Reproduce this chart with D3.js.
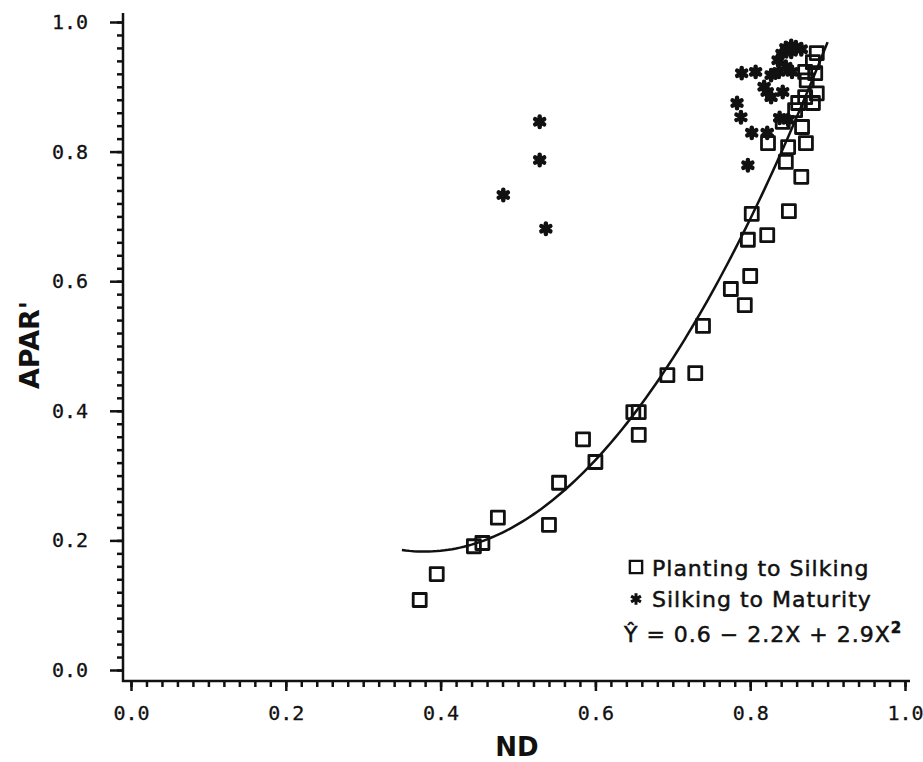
<!DOCTYPE html>
<html>
<head>
<meta charset="utf-8">
<script src="https://cdn.jsdelivr.net/npm/d3@7"></script>
<style>
  body { margin: 0; background: #fff; }
  svg { display: block; }
  .tick text { font-family: "DejaVu Sans Mono", monospace; font-size: 20px; fill: #111; stroke: #111; stroke-width: 0.3; }
  .lbl { font-family: "DejaVu Sans", sans-serif; font-weight: bold; fill: #111; }
  .leg { font-family: "DejaVu Sans", sans-serif; font-size: 22px; letter-spacing: 1px; fill: #111; stroke: #111; stroke-width: 0.5; }
</style>
</head>
<body>
<svg id="chart" width="923" height="762"></svg>
<script>
// Planting to Silking (ND, APAR')
const plantX = [0.373, 0.395, 0.443, 0.454, 0.474, 0.540, 0.553, 0.584, 0.600, 0.649, 0.656, 0.656,
  0.693, 0.729, 0.739, 0.775, 0.793, 0.800, 0.797, 0.822, 0.802, 0.850, 0.866, 0.846, 0.823, 0.849,
  0.872, 0.842, 0.867, 0.858, 0.862, 0.881, 0.871, 0.886, 0.873, 0.884, 0.871, 0.881, 0.886];
const plantY = [0.108, 0.148, 0.191, 0.196, 0.235, 0.224, 0.289, 0.356, 0.321, 0.398, 0.398, 0.363,
  0.455, 0.458, 0.531, 0.588, 0.563, 0.608, 0.664, 0.671, 0.704, 0.708, 0.761, 0.784, 0.813, 0.807,
  0.813, 0.846, 0.838, 0.864, 0.875, 0.875, 0.884, 0.890, 0.910, 0.921, 0.923, 0.938, 0.952];

// Silking to Maturity
const silkX = [0.481, 0.528, 0.528, 0.536, 0.789, 0.807, 0.827, 0.837, 0.818, 0.822, 0.827, 0.842,
  0.783, 0.788, 0.802, 0.822, 0.797, 0.838, 0.849, 0.836, 0.841, 0.846, 0.853, 0.859, 0.866, 0.853,
  0.846, 0.854];
const silkY = [0.733, 0.846, 0.787, 0.681, 0.921, 0.923, 0.918, 0.923, 0.900, 0.892, 0.884, 0.892,
  0.875, 0.853, 0.829, 0.829, 0.779, 0.852, 0.849, 0.941, 0.951, 0.960, 0.963, 0.961, 0.958, 0.954,
  0.931, 0.923];

// regression Y = a + bX + cX^2, drawn over this ND range
const coef = [0.6, -2.2, 2.9];
const fitRange = [0.35, 0.9];

const xTicks = [0.0, 0.2, 0.4, 0.6, 0.8, 1.0];
const yTicks = [0.0, 0.2, 0.4, 0.6, 0.8, 1.0];

const svg = d3.select("#chart");
const x = d3.scaleLinear().domain([0, 1]).range([131, 905]);
const y = d3.scaleLinear().domain([0, 1]).range([670, 22]);
const axX = 123, axY = 681;

const minor = d3.range(0, 1.0001, 0.02);

// y axis
const yg = svg.append("g").attr("transform", `translate(${axX},0)`);
yg.append("g").call(d3.axisLeft(y).tickValues(minor).tickSize(6).tickFormat(""))
  .call(g => g.select(".domain").remove());
yg.append("g").call(d3.axisLeft(y).tickValues(yTicks).tickSize(13).tickPadding(22).tickFormat(d3.format(".1f")))
  .call(g => g.select(".domain").remove());
yg.append("line").attr("y1", 13).attr("y2", axY + 1);

// x axis
const xg = svg.append("g").attr("transform", `translate(0,${axY})`);
xg.append("g").call(d3.axisBottom(x).tickValues(minor).tickSize(6).tickFormat(""))
  .call(g => g.select(".domain").remove());
xg.append("g").call(d3.axisBottom(x).tickValues(xTicks).tickSize(10).tickPadding(15).tickFormat(d3.format(".1f")))
  .call(g => g.select(".domain").remove());
xg.append("line").attr("x1", axX - 1).attr("x2", 910);

svg.selectAll("line").attr("stroke", "#111").attr("stroke-width", 2.5);

// axis titles
svg.append("text").attr("class", "lbl").attr("font-size", 27)
  .attr("transform", "translate(39,345) rotate(-90)").attr("text-anchor", "middle").text("APAR'");
svg.append("text").attr("class", "lbl").attr("font-size", 26)
  .attr("x", 517).attr("y", 756).attr("text-anchor", "middle").text("ND");

// fitted curve
const fitX = d3.range(fitRange[0], fitRange[1] + 1e-9, 0.005);
const line = d3.line().x(d => x(d)).y(d => y(coef[0] + coef[1] * d + coef[2] * d * d));
svg.append("path").datum(fitX).attr("d", line)
  .attr("fill", "none").attr("stroke", "#111").attr("stroke-width", 2.5);

// markers
const sq = d3.symbol().type(d3.symbolSquare).size(169);
const star = d3.symbol().type(d3.symbolAsterisk).size(75);

svg.append("g").selectAll("path").data(silkX.map((v, i) => [v, silkY[i]])).join("path")
  .attr("transform", d => `translate(${x(d[0])},${y(d[1])})`)
  .attr("d", star).attr("fill", "none").attr("stroke", "#111").attr("stroke-width", 4.5)
  .attr("stroke-linecap", "round");

svg.append("g").selectAll("path").data(plantX.map((v, i) => [v, plantY[i]])).join("path")
  .attr("transform", d => `translate(${x(d[0])},${y(d[1])})`)
  .attr("d", sq).attr("fill", "none").attr("stroke", "#111").attr("stroke-width", 2.8)
  .attr("stroke-linejoin", "round");

// legend
const leg = svg.append("g");
leg.append("path").attr("transform", "translate(636,567)").attr("d", d3.symbol().type(d3.symbolSquare).size(150))
  .attr("fill", "none").attr("stroke", "#111").attr("stroke-width", 2.4);
leg.append("text").attr("class", "leg").attr("x", 652).attr("y", 576).text("Planting to Silking");
leg.append("path").attr("transform", "translate(636,599)").attr("d", d3.symbol().type(d3.symbolAsterisk).size(90))
  .attr("fill", "none").attr("stroke", "#111").attr("stroke-width", 3);
leg.append("text").attr("class", "leg").attr("x", 652).attr("y", 607).text("Silking to Maturity");
const eq = leg.append("text").attr("class", "leg").attr("x", 624).attr("y", 642);
eq.append("tspan").text("Y\u0302 = " + coef[0] + " \u2212 " + Math.abs(coef[1]) + "X + " + coef[2] + "X");
eq.append("tspan").attr("dy", -9).attr("font-size", 15).attr("font-weight", "bold").text("2");
</script>
</body>
</html>
